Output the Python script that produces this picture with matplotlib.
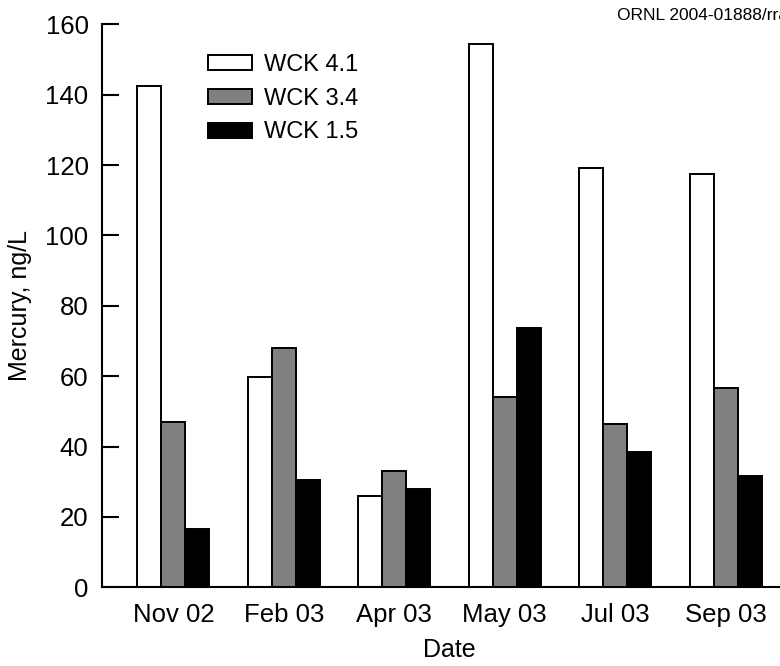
import numpy as np
import matplotlib
matplotlib.use("Agg")
import matplotlib.pyplot as plt

plt.rcParams['font.family'] = ['Liberation Sans', 'DejaVu Sans']

dates = ["Nov 02", "Feb 03", "Apr 03", "May 03", "Jul 03", "Sep 03"]
series = ["WCK 4.1", "WCK 3.4", "WCK 1.5"]
wck41 = [142.4, 59.7, 26.0, 154.5, 119.2, 117.4]
wck34 = [47.0, 68.1, 33.0, 54.0, 46.4, 56.5]
wck15 = [16.5, 30.5, 27.9, 73.7, 38.5, 31.6]
yticks = [0, 20, 40, 60, 80, 100, 120, 140, 160]

fills = ["white", "#808080", "black"]

fig = plt.figure(figsize=(7.8, 6.66), dpi=100)
# axes runs a little past the right edge, like the cropped original
ax = fig.add_axes([0.1313, 0.1182, 0.890, 0.8453])

x = np.arange(len(dates))
w = 0.217
for i, (vals, name) in enumerate(zip([wck41, wck34, wck15], series)):
    ax.bar(x + (i - 1) * w, vals, width=w, color=fills[i],
           edgecolor="black", linewidth=1.4, label=name)

ax.set_xlim(-0.643, 5.643)
ax.set_ylim(0, 160)
ax.set_yticks(yticks)
ax.set_xticks(x)
ax.set_xticklabels(dates)

for s in ["top", "right"]:
    ax.spines[s].set_visible(False)
for s in ["left", "bottom"]:
    ax.spines[s].set_linewidth(1.5)

ax.tick_params(axis="y", direction="in", length=12, width=1.5, labelsize=18.5, pad=10)
ax.tick_params(axis="x", length=0, labelsize=18.5, pad=11)

ax.set_ylabel("Mercury, ng/L", fontsize=18, labelpad=10)
ax.set_xlabel("Date", fontsize=18, labelpad=8)

ax.legend(loc="upper left", bbox_to_anchor=(0.262, 0.937),
          bbox_transform=fig.transFigure, frameon=False, fontsize=17,
          handlelength=1.9, handleheight=0.6, labelspacing=0.5,
          handletextpad=0.5, borderpad=0)
ax.get_legend().set_bbox_to_anchor((0.251, 0.937), transform=fig.transFigure)

# the credit line is cropped by the right edge in the original too
fig.text(617 / 780, 1 - 15 / 666, "ORNL 2004-01888/rra", fontsize=12.5,
         ha="left", va="center")

fig.savefig("out.png", dpi=100)
